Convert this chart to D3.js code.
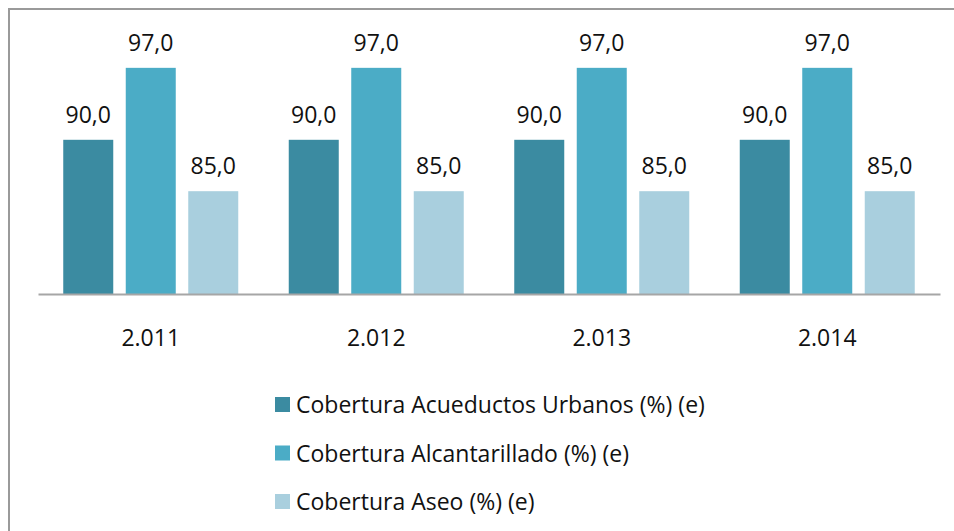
<!DOCTYPE html>
<html>
<head>
<meta charset="utf-8">
<script src="https://cdn.jsdelivr.net/npm/d3@7"></script>
<style>
  body { margin: 0; background: #fff; }
  svg { display: block; font-family: "Open Sans", sans-serif; }
</style>
</head>
<body>
<svg id="chart" width="954" height="531"></svg>
<script>
// Data
const years = ['2.011', '2.012', '2.013', '2.014'];
const seriesNames = [
    'Cobertura Acueductos Urbanos (%) (e)',
    'Cobertura Alcantarillado (%) (e)',
    'Cobertura Aseo (%) (e)'
];
const acueductos = [90.0, 90.0, 90.0, 90.0];
const alcantarillado = [97.0, 97.0, 97.0, 97.0];
const aseo = [85.0, 85.0, 85.0, 85.0];
const colors = ['#3b8ba1', '#4bacc6', '#a9cfde'];

const seriesValues = [acueductos, alcantarillado, aseo];
const fontSize = '23px';

const svg = d3.select('#chart');

// Chart border (cut off at right and bottom)
svg.append('rect')
    .attr('x', 9).attr('y', 9)
    .attr('width', 960).attr('height', 540)
    .attr('fill', 'none')
    .attr('stroke', '#9a9a9a')
    .attr('stroke-width', 2);

const plot = { left: 38, right: 940, top: 37, bottom: 294 };

const x0 = d3.scaleBand()
    .domain(years)
    .range([plot.left, plot.right]);

const x1 = d3.scaleBand()
    .domain(d3.range(seriesNames.length))
    .range([0, x0.bandwidth()])
    .paddingInner(0.2)
    .paddingOuter(0.404);

const y = d3.scaleLinear()
    .domain([75, 100])
    .range([plot.bottom, plot.top]);

const cellData = (d, i) => seriesValues.map((s, k) => ({ k: k, v: s[i] }));

// Bars
const groups = svg.append('g')
    .selectAll('g')
    .data(years)
    .join('g')
    .attr('transform', d => `translate(${x0(d)},0)`);

groups.selectAll('rect')
    .data(cellData)
    .join('rect')
    .attr('x', d => x1(d.k))
    .attr('width', x1.bandwidth())
    .attr('y', d => y(d.v))
    .attr('height', d => y.range()[0] - y(d.v))
    .attr('fill', d => colors[d.k]);

// Value labels
groups.selectAll('text')
    .data(cellData)
    .join('text')
    .attr('x', d => x1(d.k) + x1.bandwidth() / 2)
    .attr('y', d => y(d.v) - 17)
    .attr('text-anchor', 'middle')
    .style('font-size', fontSize)
    .style('fill', '#111')
    .text(d => d.v.toFixed(1).replace('.', ','));

// Axis
const xAxis = svg.append('g')
    .attr('transform', `translate(0,${plot.bottom})`)
    .call(d3.axisBottom(x0).tickSize(0).tickPadding(36));
xAxis.select('.domain').attr('stroke', '#a6a6a6').attr('stroke-width', 2);
xAxis.selectAll('text')
    .style('font-size', fontSize)
    .style('font-family', '"Open Sans", sans-serif')
    .style('fill', '#111');

// Legend
const legend = svg.append('g')
    .selectAll('g')
    .data(seriesNames)
    .join('g')
    .attr('transform', (d, i) => `translate(275,${397 + i * 48.5})`);

legend.append('rect')
    .attr('width', 15).attr('height', 15)
    .attr('fill', (d, i) => colors[i]);

legend.append('text')
    .attr('x', 21)
    .attr('y', 16)
    .style('font-size', fontSize)
    .style('fill', '#111')
    .text(d => d);
</script>
</body>
</html>
